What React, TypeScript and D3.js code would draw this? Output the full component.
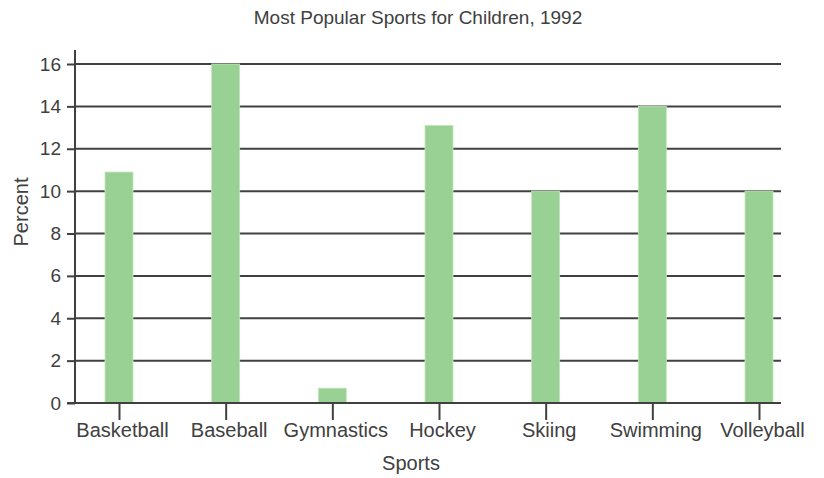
import * as d3 from "d3";
import React, { useEffect, useRef } from "react";

const sports = ["Basketball", "Baseball", "Gymnastics", "Hockey", "Skiing", "Swimming", "Volleyball"];
const percents = [10.9, 16, 0.7, 13.1, 10, 14, 10];
const yTicks = [0, 2, 4, 6, 8, 10, 12, 14, 16];

const App: React.FC = () => {
  const svgRef = useRef<SVGSVGElement>(null);

  useEffect(() => {
    const svg = d3.select(svgRef.current);
    svg.selectAll("*").remove();

    const W = 824, H = 478;
    const left = 75, right = 781, top = 64, bottom = 403;
    const ink = "#404040";
    const font = "'Liberation Sans', Arial, sans-serif";

    const x = d3.scalePoint<string>().domain(sports).range([left + 44, right - 22]);
    const y = d3.scaleLinear().domain([0, 16]).range([bottom, top]);
    const barW = 28;

    svg.attr("width", W).attr("height", H);

    // title
    svg.append("text")
      .attr("x", 418).attr("y", 24)
      .attr("text-anchor", "middle")
      .style("font-family", font).style("font-size", "19px").style("fill", ink)
      .text("Most Popular Sports for Children, 1992");

    // y axis ticks
    const yAxis = svg.append("g")
      .attr("transform", `translate(${left},0)`)
      .call(d3.axisLeft(y).tickValues(yTicks).tickSize(8).tickSizeOuter(0).tickFormat(d3.format("d")));
    yAxis.select(".domain").remove();
    yAxis.selectAll("line").attr("stroke", ink).attr("stroke-width", 2);
    yAxis.selectAll("text")
      .attr("x", -14)
      .style("font-family", font).style("font-size", "19px").style("fill", ink);

    // gridlines
    svg.append("g")
      .selectAll("line")
      .data(yTicks.filter(t => t > 0))
      .enter()
      .append("line")
      .attr("x1", left).attr("x2", right)
      .attr("y1", d => y(d)).attr("y2", d => y(d))
      .attr("stroke", ink).attr("stroke-width", 2);

    // bars
    svg.append("g")
      .selectAll("rect")
      .data(percents)
      .enter()
      .append("rect")
      .attr("x", (_, i) => x(sports[i])! - barW / 2)
      .attr("y", d => y(d))
      .attr("width", barW)
      .attr("height", d => bottom - y(d))
      .style("fill", "#99d094")
      .style("stroke", "#c2e5be")
      .style("stroke-width", 0.8);

    // x axis
    const xAxis = svg.append("g")
      .attr("transform", `translate(0,${bottom})`)
      .call(d3.axisBottom(x).tickSize(17).tickSizeOuter(0));
    xAxis.select(".domain").remove();
    xAxis.selectAll("line").attr("stroke", ink).attr("stroke-width", 2);
    xAxis.selectAll("text")
      .attr("y", 20)
      .attr("dx", 3)
      .style("font-family", font).style("font-size", "20px").style("fill", ink);

    // axis lines
    svg.append("line")
      .attr("x1", left).attr("x2", left).attr("y1", 50).attr("y2", bottom + 1)
      .attr("stroke", ink).attr("stroke-width", 2);
    svg.append("line")
      .attr("x1", left - 8).attr("x2", right).attr("y1", bottom).attr("y2", bottom)
      .attr("stroke", ink).attr("stroke-width", 2);

    // axis titles
    svg.append("text")
      .attr("x", 411).attr("y", 470)
      .attr("text-anchor", "middle")
      .style("font-family", font).style("font-size", "20px").style("fill", ink)
      .text("Sports");
    svg.append("text")
      .attr("transform", "translate(28,212) rotate(-90)")
      .attr("text-anchor", "middle")
      .style("font-family", font).style("font-size", "20px").style("fill", ink)
      .text("Percent");
  }, []);

  return <svg ref={svgRef} style={{ position: "absolute", left: 0, top: 0 }} />;
};

export default App;
